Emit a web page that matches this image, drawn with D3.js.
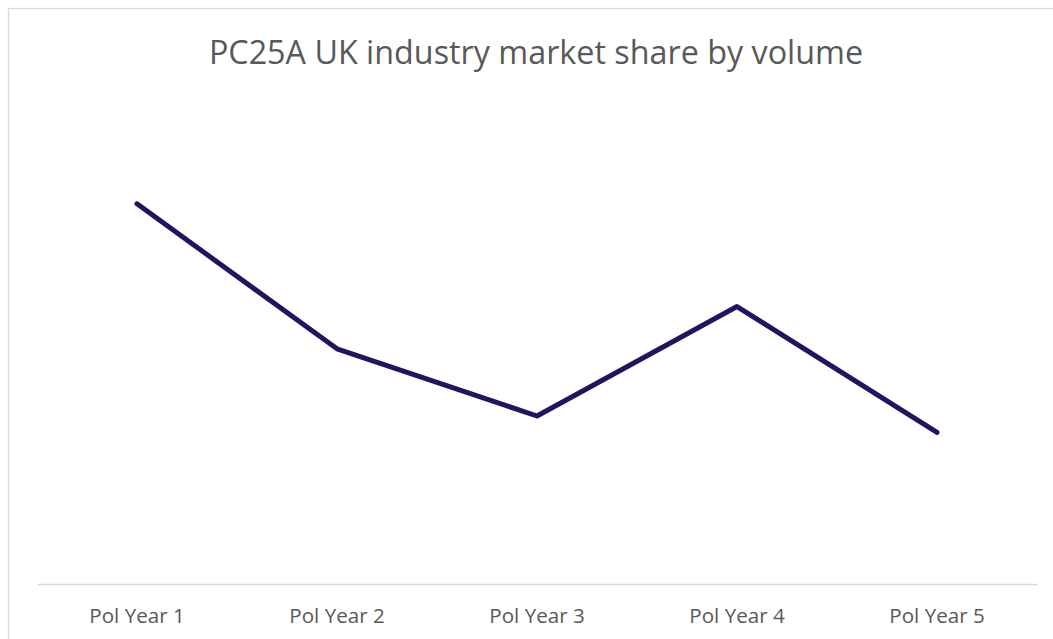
<!DOCTYPE html>
<html><head><meta charset="utf-8">
<script src="https://cdn.jsdelivr.net/npm/d3@7"></script>
<style>body{margin:0;background:#fff}svg{display:block}text{font-family:"Open Sans","Liberation Sans",sans-serif}</style>
</head><body>
<svg id="c" width="1053" height="639"></svg>
<script>
const title = "PC25A UK industry market share by volume";
const categories = ["Pol Year 1","Pol Year 2","Pol Year 3","Pol Year 4","Pol Year 5"];
const shareValues = [0.396, 0.245, 0.175, 0.289, 0.158];

const svg = d3.select("#c");
const plot = {left: 37, right: 1037, top: 104, bottom: 584};

svg.append("rect").attr("x", 8.5).attr("y", 8.5).attr("width", 1100).attr("height", 700)
  .attr("fill", "#fff").attr("stroke", "#d9d9d9").attr("stroke-width", 1.3);

svg.append("text").attr("x", 536).attr("y", 64).attr("text-anchor", "middle")
  .attr("font-size", 32.3).attr("fill", "#595959").text(title);

const x = d3.scaleBand().domain(categories).range([plot.left, plot.right]);
const y = d3.scaleLinear().domain([0, 0.5]).range([plot.bottom, plot.top]);

const xAxis = svg.append("g").attr("transform", `translate(0,${plot.bottom})`)
  .call(d3.axisBottom(x).tickSize(0).tickPadding(24));
xAxis.select(".domain").attr("stroke", "#d9d9d9").attr("stroke-width", 1.5);
xAxis.selectAll("text").attr("font-size", 20.6).attr("fill", "#595959")
  .style("font-family", '"Open Sans","Liberation Sans",sans-serif');

const line = d3.line().x((d, i) => x(categories[i]) + x.bandwidth() / 2).y(d => y(d));
svg.append("path").datum(shareValues).attr("d", line).attr("fill", "none")
  .attr("stroke", "#22145e").attr("stroke-width", 5)
  .attr("stroke-linecap", "round").attr("stroke-linejoin", "round");
</script>
</body></html>
